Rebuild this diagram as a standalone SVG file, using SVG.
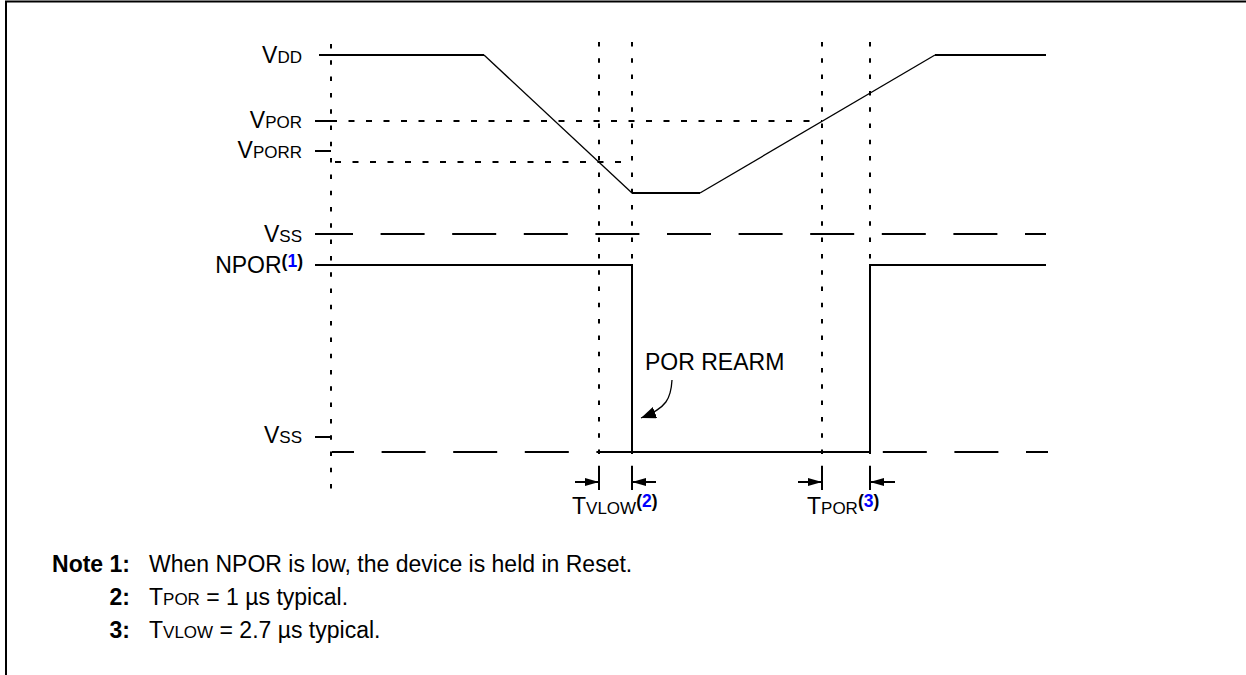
<svg xmlns="http://www.w3.org/2000/svg" width="1246" height="675" viewBox="0 0 1246 675">
<style>
.t{font-family:"Liberation Sans",Arial,sans-serif;font-size:23px;fill:#000}
.sc{font-size:17px}
.sup{font-size:17.5px;font-weight:bold}
.bl{fill:#0000ff}
.bd{font-weight:bold}
.s{stroke:#000;stroke-width:2;fill:none}
.th{stroke:#000;stroke-width:1.3;fill:none}
.dv{stroke:#000;stroke-width:2;stroke-dasharray:4.5 11.8;fill:none}
.dh{stroke:#000;stroke-width:2;stroke-dasharray:6 11.5;fill:none}
.ds{stroke:#000;stroke-width:2;stroke-dasharray:44 27.6;stroke-dashoffset:22;fill:none}
</style>
<defs>
<marker id="ah" markerUnits="userSpaceOnUse" markerWidth="14" markerHeight="9" refX="14" refY="4.5" orient="auto">
<path d="M0,0.5 L14,4.5 L0,8.5 z" fill="#000"/>
</marker>
<marker id="ah2" markerUnits="userSpaceOnUse" markerWidth="15" markerHeight="12" refX="15" refY="6" orient="auto">
<path d="M0,0 L15,6 L0,12 z" fill="#000"/>
</marker>
</defs>
<rect width="1246" height="675" fill="#fff"/>
<g id="frame">
<path class="s" d="M6,675 V1.5 H1246" stroke-width="2.5"/>
</g>
<g id="gridlines">
<line class="dv" x1="331" y1="44" x2="331" y2="496"/>
<line class="dv" x1="599" y1="42" x2="599" y2="469"/>
<line class="dv" x1="632" y1="42" x2="632" y2="469"/>
<line class="dv" x1="822" y1="42" x2="822" y2="469"/>
<line class="dv" x1="870" y1="42" x2="870" y2="469"/>
<line class="dh" x1="331" y1="121" x2="822" y2="121"/>
<line class="dh" x1="335" y1="162" x2="632" y2="162"/>
<line class="ds" x1="331" y1="234" x2="1046" y2="234"/>
<line class="ds" x1="332" y1="452" x2="1048" y2="452"/>
</g>
<g id="ticks">
<line class="s" x1="319" y1="55" x2="331" y2="55"/>
<line class="s" x1="315" y1="121" x2="331" y2="121"/>
<line class="s" x1="315" y1="151" x2="331" y2="151"/>
<line class="s" x1="315" y1="234" x2="331" y2="234"/>
<line class="s" x1="315" y1="437" x2="331" y2="437"/>
</g>
<g id="vdd-waveform">
<path class="s" d="M331,55 H484"/>
<path class="th" d="M484,55 L632,193"/>
<path class="s" d="M632,193 H700"/>
<path class="th" d="M700,193 L935,55"/>
<path class="s" d="M935,55 H1046"/>
</g>
<g id="npor-waveform">
<path class="s" d="M315,265 H632 V452 H870 V265 H1046"/>
</g>
<g id="connectors">
<line class="s" x1="599" y1="469" x2="599" y2="490"/>
<line class="s" x1="632" y1="469" x2="632" y2="490"/>
<line class="s" x1="822" y1="469" x2="822" y2="490"/>
<line class="s" x1="870" y1="469" x2="870" y2="490"/>
<line class="s" x1="575" y1="482" x2="599" y2="482" marker-end="url(#ah)"/>
<line class="s" x1="656" y1="482" x2="632" y2="482" marker-end="url(#ah)"/>
<line class="s" x1="798" y1="482" x2="822" y2="482" marker-end="url(#ah)"/>
<line class="s" x1="895" y1="482" x2="870" y2="482" marker-end="url(#ah)"/>
<path class="th" d="M672,380 C671,398 667,408 641,418" marker-end="url(#ah2)"/>
</g>
<g id="labels">
<text class="t" x="302" y="63" text-anchor="end">V<tspan class="sc">DD</tspan></text>
<text class="t" x="302" y="128" text-anchor="end">V<tspan class="sc">POR</tspan></text>
<text class="t" x="302" y="158" text-anchor="end">V<tspan class="sc">PORR</tspan></text>
<text class="t" x="302" y="242" text-anchor="end">V<tspan class="sc">SS</tspan></text>
<text class="t" x="303" y="273" text-anchor="end">NPOR<tspan class="sup" dy="-6">(<tspan class="bl">1</tspan>)</tspan></text>
<text class="t" x="302" y="443" text-anchor="end">V<tspan class="sc">SS</tspan></text>
<text class="t" x="645" y="370">POR REARM</text>
<text class="t" x="572" y="514">T<tspan class="sc">VLOW</tspan><tspan class="sup" dy="-7">(<tspan class="bl">2</tspan>)</tspan></text>
<text class="t" x="807" y="514">T<tspan class="sc">POR</tspan><tspan class="sup" dy="-7">(<tspan class="bl">3</tspan>)</tspan></text>
</g>
<g id="notes">
<text class="t bd" x="130" y="572" text-anchor="end">Note 1:</text>
<text class="t" x="149" y="572">When NPOR is low, the device is held in Reset.</text>
<text class="t bd" x="130" y="605" text-anchor="end">2:</text>
<text class="t" x="149" y="605">T<tspan class="sc">POR</tspan> = 1 µs typical.</text>
<text class="t bd" x="130" y="638" text-anchor="end">3:</text>
<text class="t" x="149" y="638">T<tspan class="sc">VLOW</tspan> = 2.7 µs typical.</text>
</g>
</svg>
